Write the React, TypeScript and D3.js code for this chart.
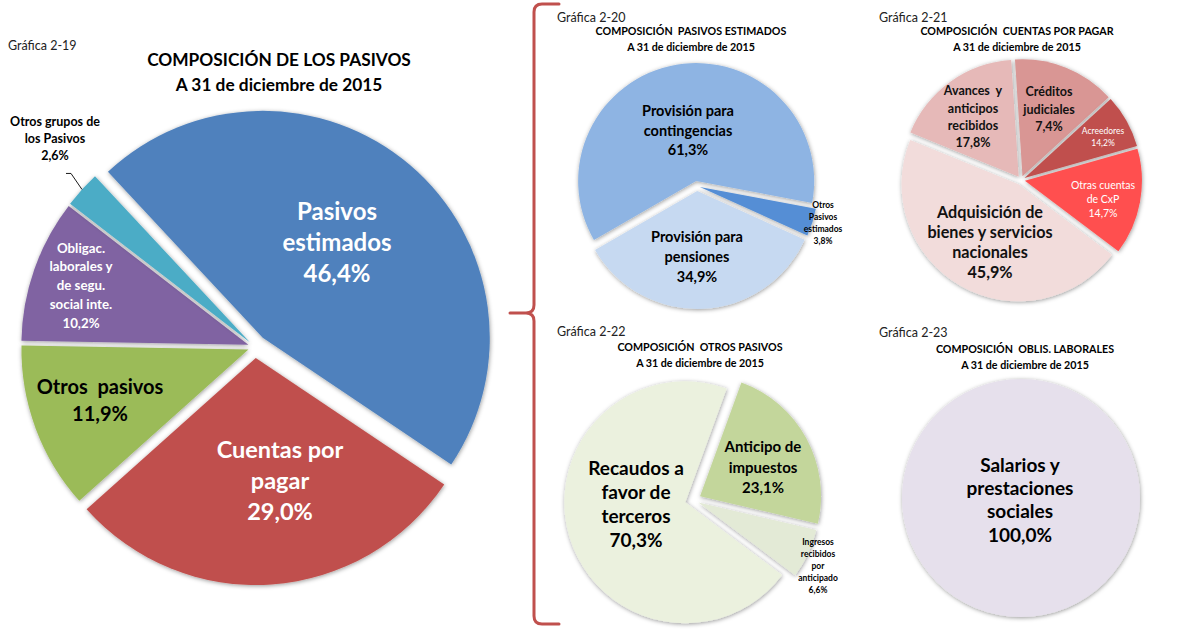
import React from "react";
import * as d3 from "d3";

const FONT = "Lato, 'Open Sans', sans-serif";

// ---------- DATA ----------
// Gráfica 2-19
const mainCategories = [
  ["Pasivos", "estimados"],
  ["Cuentas por", "pagar"],
  ["Otros  pasivos"],
  ["Obligac.", "laborales y", "de segu.", "social inte."],
  ["Otros grupos de", "los Pasivos"],
];
const mainValues = [46.4, 29.0, 11.9, 10.2, 2.6];

// Gráfica 2-20
const estCategories = [
  ["Provisión para", "contingencias"],
  ["Otros", "Pasivos", "estimados"],
  ["Provisión para", "pensiones"],
];
const estValues = [61.3, 3.8, 34.9];

// Gráfica 2-21 (slice sizes as drawn, and the percentages printed on them)
const cxpCategories = [
  ["Adquisición de", "bienes y servicios", "nacionales"],
  ["Avances  y", "anticipos", "recibidos"],
  ["Créditos", "judiciales"],
  ["Acreedores"],
  ["Otras cuentas", "de CxP"],
];
const cxpValues = [45.9, 17.8, 14.2, 7.4, 14.7];
const cxpLabelValues = [45.9, 17.8, 7.4, 14.2, 14.7];

// Gráfica 2-22
const otrosCategories = [
  ["Anticipo de", "impuestos"],
  ["Ingresos", "recibidos", "por", "anticipado"],
  ["Recaudos a", "favor de", "terceros"],
];
const otrosValues = [23.1, 6.6, 70.3];

// Gráfica 2-23
const laboCategories = [["Salarios y", "prestaciones", "sociales"]];
const laboValues = [100.0];

const DATE_LINE = "A 31 de diciembre de 2015";

// ---------- STYLE / LAYOUT ----------
type LabelStyle = { dx: number; dy: number; fs: number; lh: number; fill: string; weight?: number };
type PieSpec = {
  id: string;
  cx: number;
  cy: number;
  r: number;
  startDeg: number;
  values: number[];
  labelValues: number[];
  categories: string[][];
  colors: string[];
  explode: number[];
  labels: LabelStyle[];
};

const fmtPct = (v: number) => d3.format(".1f")(v).replace(".", ",") + "%";

const pies: PieSpec[] = [
  {
    id: "p19",
    cx: 255,
    cy: 347,
    r: 227,
    startDeg: -43,
    values: mainValues,
    labelValues: mainValues,
    categories: mainCategories,
    colors: ["#4F81BD", "#C0504D", "#9BBB59", "#8064A2", "#4BACC6"],
    explode: [12, 11, 7, 7, 7],
    labels: [
      { dx: 82, dy: -135, fs: 24, lh: 31, fill: "#fff" },
      { dx: 25, dy: 103, fs: 23.5, lh: 31, fill: "#fff" },
      { dx: -155, dy: 40, fs: 20, lh: 27, fill: "#000" },
      { dx: -174, dy: -99, fs: 13.3, lh: 18.8, fill: "#fff" },
      { dx: -200, dy: -225, fs: 12.5, lh: 17, fill: "#000" },
    ],
  },
  {
    id: "p20",
    cx: 697,
    cy: 186,
    r: 118,
    startDeg: -120,
    values: estValues,
    labelValues: estValues,
    categories: estCategories,
    colors: ["#8EB4E3", "#558ED5", "#C6D9F1"],
    explode: [5, 3, 5],
    labels: [
      { dx: -9, dy: -75, fs: 14.5, lh: 19.5, fill: "#000" },
      { dx: 126, dy: 19, fs: 8.5, lh: 12, fill: "#000" },
      { dx: 0, dy: 51, fs: 14.5, lh: 20, fill: "#000" },
    ],
  },
  {
    id: "p21",
    cx: 1021,
    cy: 180,
    r: 117,
    startDeg: 127,
    values: cxpValues,
    labelValues: cxpLabelValues,
    categories: cxpCategories,
    colors: ["#F2DCDB", "#E6B9B8", "#D99694", "#C0504D", "#FF5050"],
    explode: [5, 4, 4, 4, 4],
    labels: [
      { dx: -31, dy: 32, fs: 16.2, lh: 20, fill: "#111" },
      { dx: -48, dy: -89, fs: 12.5, lh: 17.3, fill: "#111" },
      { dx: 28, dy: -88, fs: 12.5, lh: 17.5, fill: "#111" },
      { dx: 82, dy: -49, fs: 8.5, lh: 12, fill: "#fff", weight: 400 },
      { dx: 82, dy: 5, fs: 10.5, lh: 14, fill: "#fff", weight: 400 },
    ],
  },
  {
    id: "p22",
    cx: 693,
    cy: 500,
    r: 121,
    startDeg: 20,
    values: otrosValues,
    labelValues: otrosValues,
    categories: otrosCategories,
    colors: ["#C3D69B", "#E3EAD6", "#EBF1DE"],
    explode: [8, 6, 8],
    labels: [
      { dx: 70, dy: -53, fs: 15, lh: 20.5, fill: "#000" },
      { dx: 125, dy: 42, fs: 8.5, lh: 12, fill: "#000" },
      { dx: -57, dy: -32, fs: 19, lh: 24, fill: "#000" },
    ],
  },
  {
    id: "p23",
    cx: 1021,
    cy: 498,
    r: 119,
    startDeg: 0,
    values: laboValues,
    labelValues: laboValues,
    categories: laboCategories,
    colors: ["#E6E0EC"],
    explode: [0],
    labels: [{ dx: -1, dy: -33, fs: 19, lh: 23.3, fill: "#000" }],
  },
];

const headers = [
  { tag: "Gráfica 2-19", tx: 8, ty: 45, title: ["COMPOSICIÓN DE LOS PASIVOS", DATE_LINE], cx: 279, y1: 60, y2: 85, fs: 17.3 },
  { tag: "Gráfica 2-20", tx: 557, ty: 17, title: ["COMPOSICIÓN  PASIVOS ESTIMADOS", DATE_LINE], cx: 691, y1: 31, y2: 47, fs: 10.7 },
  { tag: "Gráfica 2-21", tx: 879, ty: 17, title: ["COMPOSICIÓN  CUENTAS POR PAGAR", DATE_LINE], cx: 1017, y1: 31, y2: 47, fs: 10.7 },
  { tag: "Gráfica 2-22", tx: 557, ty: 331, title: ["COMPOSICIÓN  OTROS PASIVOS", DATE_LINE], cx: 700, y1: 347, y2: 363, fs: 10.7 },
  { tag: "Gráfica 2-23", tx: 879, ty: 332, title: ["COMPOSICIÓN  OBLIS. LABORALES", DATE_LINE], cx: 1025, y1: 349, y2: 365, fs: 10.7 },
];

function Label({ x, y, lines, st }: { x: number; y: number; lines: string[]; st: LabelStyle }) {
  return (
    <text
      x={x}
      y={y + st.fs * 0.35}
      textAnchor="middle"
      fontFamily={FONT}
      fontWeight={st.weight ?? 700}
      fontSize={st.fs}
      fill={st.fill}
    >
      {lines.map((l, i) => (
        <tspan key={i} x={x} dy={i === 0 ? 0 : st.lh} style={{ whiteSpace: "pre" }}>
          {l}
        </tspan>
      ))}
    </text>
  );
}

function Pie({ spec }: { spec: PieSpec }) {
  const start = (spec.startDeg * Math.PI) / 180;
  const arcs = d3
    .pie<number>()
    .sort(null)
    .value((d) => d)
    .startAngle(start)
    .endAngle(start + 2 * Math.PI)(spec.values);
  const arc = d3.arc<d3.PieArcDatum<number>>().innerRadius(0).outerRadius(spec.r);
  return (
    <g>
      {arcs.map((a, i) => {
        const mid = (a.startAngle + a.endAngle) / 2;
        const d = spec.explode[i];
        const ox = d * Math.sin(mid);
        const oy = -d * Math.cos(mid);
        return (
          <path
            key={i}
            d={arc(a) || ""}
            transform={`translate(${spec.cx + ox},${spec.cy + oy})`}
            fill={spec.colors[i]}
            filter="url(#shadow)"
          />
        );
      })}
      {arcs.map((a, i) => {
        const st = spec.labels[i];
        const lines = [...spec.categories[i], fmtPct(spec.labelValues[i])];
        return <Label key={"l" + i} x={spec.cx + st.dx} y={spec.cy + st.dy} lines={lines} st={st} />;
      })}
    </g>
  );
}

function Leader({ spec, index }: { spec: PieSpec; index: number }) {
  const start = (spec.startDeg * Math.PI) / 180;
  const arcs = d3.pie<number>().sort(null).value((d) => d).startAngle(start).endAngle(start + 2 * Math.PI)(spec.values);
  const a = arcs[index];
  const mid = (a.startAngle + a.endAngle) / 2;
  const rr = spec.r + spec.explode[index];
  const ex = spec.cx + rr * Math.sin(mid);
  const ey = spec.cy - rr * Math.cos(mid);
  const path = d3.path();
  path.moveTo(ex - 16, ey - 16);
  path.lineTo(ex - 11, ey - 16);
  path.lineTo(ex, ey);
  return <path d={path.toString()} fill="none" stroke="#000" strokeWidth={0.9} />;
}

export default function App() {
  const bx = 534;
  const bracket = d3.path();
  bracket.moveTo(bx + 25, 4);
  bracket.lineTo(bx + 8, 4);
  bracket.quadraticCurveTo(bx, 4, bx, 12);
  bracket.lineTo(bx, 305);
  bracket.quadraticCurveTo(bx, 313, bx - 8, 313);
  bracket.lineTo(bx - 24, 313);
  bracket.moveTo(bx - 8, 313);
  bracket.quadraticCurveTo(bx, 313, bx, 321);
  bracket.lineTo(bx, 616);
  bracket.quadraticCurveTo(bx, 624, bx + 8, 624);
  bracket.lineTo(bx + 25, 624);

  return (
    <svg
      width={1196}
      height={629}
      style={{ position: "absolute", left: 0, top: 0, background: "#fff" }}
      xmlns="http://www.w3.org/2000/svg"
    >
      <defs>
        <filter id="shadow" x="-20%" y="-20%" width="140%" height="140%">
          <feDropShadow dx="0.5" dy="1" stdDeviation="2.2" floodColor="#000" floodOpacity="0.4" />
        </filter>
      </defs>
      <rect width={1196} height={629} fill="#fff" />
      {headers.map((h, i) => (
        <g key={i}>
          <text x={h.tx} y={h.ty + 4.5} fontFamily={FONT} fontSize={12.5} fill="#222">
            {h.tag}
          </text>
          {h.title.map((t, j) => (
            <text
              key={j}
              x={h.cx}
              y={(j === 0 ? h.y1 : h.y2) + h.fs * 0.36}
              textAnchor="middle"
              fontFamily={FONT}
              fontWeight={700}
              fontSize={h.fs}
              fill="#000"
              style={{ whiteSpace: "pre" }}
            >
              {t}
            </text>
          ))}
        </g>
      ))}
      {pies.map((p) => (
        <Pie key={p.id} spec={p} />
      ))}
      <Leader spec={pies[0]} index={4} />
      <path d={bracket.toString()} fill="none" stroke="#C0504D" strokeWidth={3} strokeLinecap="round" />
    </svg>
  );
}
